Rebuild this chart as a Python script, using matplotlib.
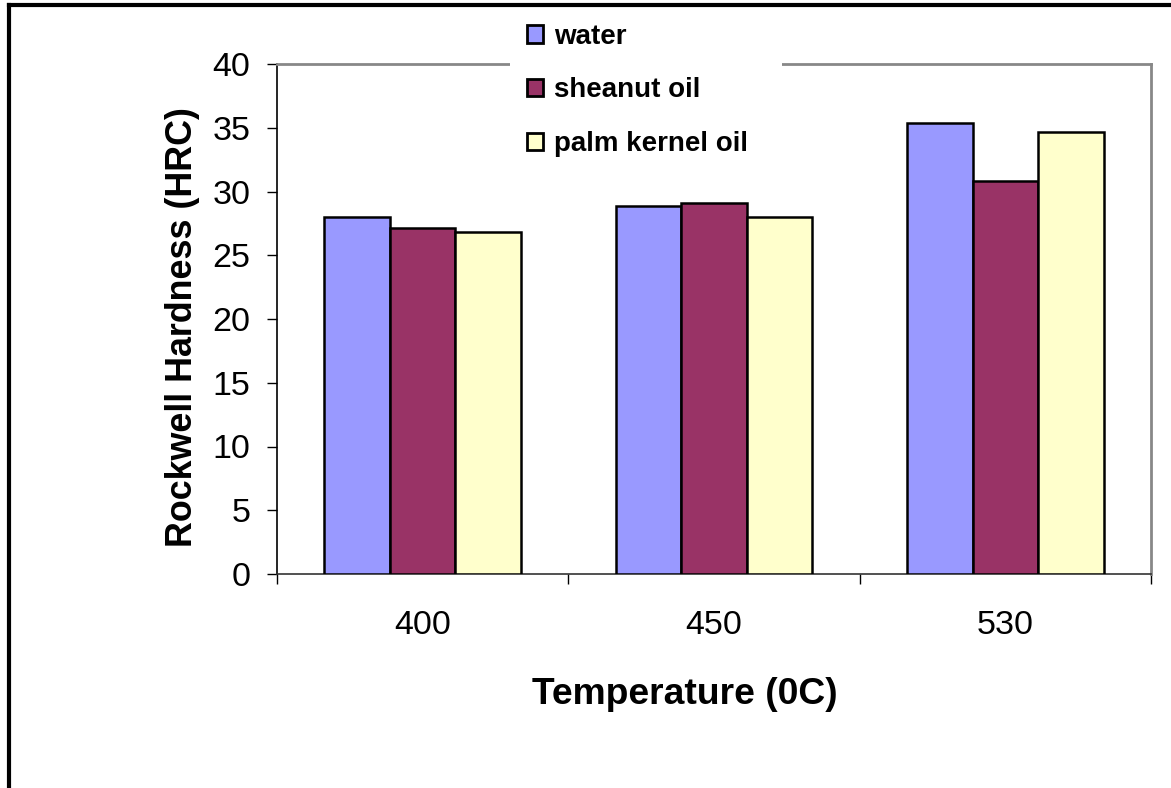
import matplotlib.pyplot as plt
from matplotlib.lines import Line2D
from matplotlib.patches import Patch
import numpy as np

# ==========================================
# DATOS
# ==========================================

temperaturas = ["400", "450", "530"]
series = ["water", "sheanut oil", "palm kernel oil"]
water = [28.0, 28.9, 35.4]
sheanut = [27.1, 29.1, 30.8]
palm = [26.8, 28.0, 34.7]
colores = ["#9999FF", "#993366", "#FFFFCC"]

plt.rcParams['font.family'] = ['Liberation Sans', 'DejaVu Sans']

W, H = 1171, 788
fig = plt.figure(figsize=(W / 100, H / 100), dpi=100)
ax = fig.add_axes([277 / W, 1 - 574 / H, (1151 - 277) / W, (574 - 64) / H])

x = np.arange(len(temperaturas))
ancho = 0.225
for i, (vals, col) in enumerate(zip([water, sheanut, palm], colores)):
    ax.bar(x + (i - 1) * ancho, vals, ancho, color=col,
           edgecolor="black", linewidth=1.8, zorder=3)

ax.set_xlim(-0.5, 2.5)
ax.set_ylim(0, 40)
ax.set_yticks(np.arange(0, 41, 5))
ax.set_xticks(x)
ax.set_xticklabels(temperaturas)
ax.set_xticks([-0.5, 0.5, 1.5, 2.5], minor=True)

ax.tick_params(axis="x", which="major", length=0, pad=26, labelsize=24.5)
ax.tick_params(axis="x", which="minor", length=7, width=1, direction="out")
ax.tick_params(axis="y", length=7, width=1, direction="out", pad=12,
               labelsize=24.5)

ax.spines["left"].set_color("black")
ax.spines["bottom"].set_color("#333333")
ax.spines["left"].set_linewidth(1.2)
ax.spines["bottom"].set_linewidth(1.2)
for s in ["top", "right"]:
    ax.spines[s].set_color("#888888")
    ax.spines[s].set_linewidth(2)

# titulos de ejes
fig.text(183 / W, 1 - 327 / H, "Rockwell Hardness (HRC)", rotation=90,
         ha="center", va="center", fontsize=25.8, fontweight="bold")
fig.text(685 / W, 1 - 694 / H, "Temperature (0C)",
         ha="center", va="center", fontsize=26.8, fontweight="bold")

# leyenda
handles = [Patch(facecolor=c, edgecolor="black", linewidth=2) for c in colores]
leg = ax.legend(handles, series, loc="upper left",
                bbox_to_anchor=(510 / W, 1 - 185 / H, 272 / W, 178 / H),
                bbox_transform=fig.transFigure, borderaxespad=0,
                mode="expand",
                frameon=True, fancybox=False, framealpha=1,
                facecolor="white", edgecolor="none",
                handlelength=0.6, handleheight=0.6, handletextpad=0.4,
                labelspacing=1.0, borderpad=0.6,
                prop={"size": 20, "weight": "bold"})
leg.set_zorder(10)

# marco exterior
fig.add_artist(Line2D([9 / W, 1.0], [1 - 5 / H, 1 - 5 / H],
                      transform=fig.transFigure, color="black", linewidth=3))
fig.add_artist(Line2D([9 / W, 9 / W], [0, 1 - 5 / H],
                      transform=fig.transFigure, color="black", linewidth=3))

fig.savefig("out.png", dpi=100)
